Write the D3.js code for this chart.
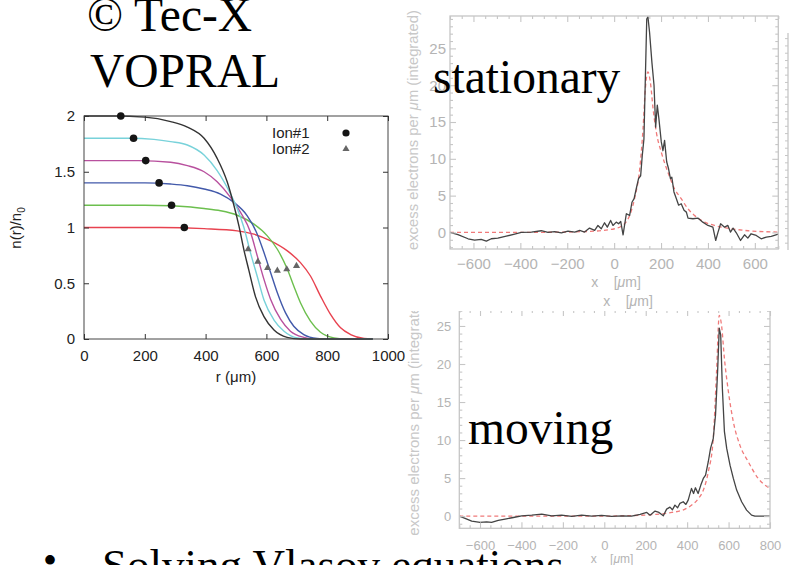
<!DOCTYPE html>
<html><head><meta charset="utf-8">
<script src="https://cdn.jsdelivr.net/npm/d3@7"></script>
<style>html,body{margin:0;padding:0;background:#fff;}svg{display:block;}</style>
</head><body>
<svg id="c" width="792" height="565"></svg>
<script>
// ---------- LEFT CHART DATA (r in µm, n(r)/n0) ----------
const leftXTicks = [0, 200, 400, 600, 800, 1000];
const leftYTicks = [0, 0.5, 1, 1.5, 2];
const curveBlack = [[0,2],[100,2],[200,1.99],[285,1.95],[340,1.9],[395,1.8],[438,1.62],[471,1.41],[493,1.2],[510,1.01],[526,0.8],[542,0.62],[564,0.38],[592,0.2],[625,0.08],[668,0.015],[712,0],[950,0]];
const curveCyan = [[0,1.8],[150,1.8],[230,1.79],[285,1.77],[340,1.74],[395,1.65],[438,1.51],[482,1.3],[504,1.17],[526,1.0],[548,0.77],[570,0.56],[592,0.35],[625,0.17],[658,0.07],[701,0.01],[740,0],[950,0]];
const curveMagenta = [[0,1.6],[180,1.6],[285,1.585],[340,1.555],[395,1.5],[438,1.41],[482,1.27],[515,1.135],[548,0.955],[570,0.745],[592,0.535],[614,0.355],[647,0.175],[679,0.07],[723,0.015],[760,0],[950,0]];
const curveBlue = [[0,1.4],[200,1.4],[285,1.39],[340,1.375],[395,1.345],[449,1.3],[493,1.225],[537,1.105],[570,0.94],[592,0.775],[614,0.595],[636,0.415],[663,0.234],[690,0.114],[723,0.04],[767,0.005],[800,0],[950,0]];
const curveGreen = [[0,1.2],[200,1.2],[285,1.195],[340,1.186],[395,1.17],[449,1.15],[504,1.11],[559,1.03],[603,0.925],[636,0.805],[669,0.625],[690,0.475],[712,0.325],[745,0.16],[778,0.06],[822,0.01],[860,0],[950,0]];
const curveRed = [[0,1],[250,1],[395,0.99],[504,0.97],[559,0.94],[614,0.88],[669,0.79],[712,0.685],[745,0.565],[778,0.385],[811,0.22],[844,0.1],[877,0.04],[921,0.005],[950,0]];
const ion1R = [121, 163, 203, 247, 288, 330];
const ion1N = [2, 1.8, 1.6, 1.4, 1.2, 1.0];
const ion2R = [540, 572, 604, 636, 667, 699];
const ion2N = [0.805, 0.694, 0.637, 0.613, 0.625, 0.655];
const legendLabels = ["Ion#1", "Ion#2"];

// ---------- TOP RIGHT (stationary) ----------
const topXTicks = [-600, -400, -200, 0, 200, 400, 600];
const topYTicks = [0, 5, 10, 15, 20, 25];
const topMeasured = [[-700,0],[-666,-0.3],[-623,-0.86],[-595,-1.04],[-567,-0.95],[-545,-1.18],[-524,-0.86],[-496,-0.77],[-460,-0.5],[-424,-0.23],[-396,0],[-353,0.05],[-311,0.23],[-282,0],[-254,0.1],[-225,-0.05],[-197,0.18],[-168,0.05],[-147,0.27],[-126,0.05],[-105,0.59],[-83,0.27],[-69,0.95],[-55,0.5],[-41,1.31],[-29,0.72],[-15,1.63],[-5,0.95],[9,1.4],[19,1.18],[28,1.49],[38,-0.32],[52,2.54],[66,2.31],[76,4.1],[85,4.6],[94,5.9],[104,7.3],[113,7.7],[120,10.5],[127,12.7],[133,20.9],[139,29.0],[144,29.3],[151,27.2],[161,23.1],[170,20],[177,14.3],[184,17.3],[191,15.4],[201,12.3],[208,11.1],[215,12.5],[224,9.6],[232,8.65],[240,7.3],[246,7.5],[255,5.5],[265,4.6],[275,3.7],[286,3.9],[298,3.0],[308,2.76],[315,1.95],[336,1.86],[357,1.95],[378,1.4],[400,0.95],[421,0.72],[433,-1.09],[443,0.05],[454,1.18],[471,0.72],[485,0.95],[496,0.05],[507,0.59],[521,-0.05],[539,-1.09],[556,-0.32],[570,-0.77],[584,-0.18],[606,-0.41],[627,-0.86],[649,-0.63],[670,-0.54],[700,-0.23]];
const topFit = [[-700,0],[-300,0.02],[-100,0.15],[2,0.5],[45,1.2],[66,2.3],[87,4.6],[109,8.65],[123,14],[133,19.5],[144,21.8],[156,20],[166,16.8],[180,13.6],[201,10.9],[229,8.2],[258,5.9],[286,4.6],[315,3.2],[343,2.3],[386,1.4],[428,0.95],[500,0.5],[571,0.23],[700,0.05]];

// ---------- BOTTOM RIGHT (moving) ----------
const botXTicks = [-600, -400, -200, 0, 200, 400, 600, 800];
const botYTicks = [0, 5, 10, 15, 20, 25];
const botMeasured = [[-700,0],[-672,-0.3],[-640,-0.66],[-600,-0.83],[-568,-0.75],[-544,-0.83],[-512,-0.57],[-479,-0.39],[-439,-0.18],[-399,0.04],[-350,0.13],[-302,0.26],[-254,0.04],[-206,0.13],[-157,-0.04],[-109,0.13],[-61,0],[-13,0.09],[35,-0.04],[84,0.04],[132,0],[173,0.22],[205,0.48],[221,0.13],[245,0.66],[264,0.48],[285,0.04],[301,0.92],[317,1.18],[329,0.83],[341,1.45],[354,1.1],[365,1.67],[381,1.89],[394,1.54],[405,2.1],[421,3.64],[431,2.98],[440,3.73],[453,2.98],[466,4.08],[478,4.96],[489,5.4],[502,7.15],[513,8.9],[526,10.2],[537,13.3],[547,19.0],[555,24.7],[562,23.8],[570,16.8],[580,11.1],[591,8.9],[607,6.7],[623,4.96],[639,3.42],[663,1.89],[687,0.79],[711,0.13],[727,0],[800,0]];
const botFit = [[-700,0],[0,0],[100,0.05],[245,0.22],[326,0.48],[390,0.92],[422,1.45],[454,2.3],[478,3.4],[502,5.8],[526,10.2],[542,19],[555,26.4],[566,25.1],[580,20.7],[599,16.4],[623,12.4],[655,9.3],[695,7.15],[743,4.96],[800,3.64]];

const svg = d3.select("#c");
const SANS = "'Liberation Sans', Arial, Helvetica, sans-serif";
const SERIF = "'Liberation Serif', 'Times New Roman', serif";

// ================= LEFT CHART =================
(function(){
  const x = d3.scaleLinear().domain([0, 1000]).range([84, 388]);
  const y = d3.scaleLinear().domain([0, 2]).range([339, 116]);
  const g = svg.append("g");
  const line = d3.line().x(d => x(d[0])).y(d => y(d[1])).curve(d3.curveMonotoneX);
  const series = [
    [curveRed, "#e8424f"], [curveGreen, "#6cbf4e"], [curveBlue, "#4259aa"],
    [curveMagenta, "#b8509e"], [curveCyan, "#78d2da"], [curveBlack, "#333333"]
  ];
  series.forEach(([d, col]) => {
    g.append("path").datum(d).attr("d", line).attr("fill", "none")
      .attr("stroke", col).attr("stroke-width", 1.4);
  });
  g.append("rect").attr("x", x(0)).attr("y", y(2)).attr("width", x(1000) - x(0))
    .attr("height", y(0) - y(2)).attr("fill", "none").attr("stroke", "#444").attr("stroke-width", 1);
  const style = s => {
    s.select(".domain").remove();
    s.attr("color", "#333");
    s.selectAll("text").attr("font-family", SANS).attr("font-size", 15).attr("fill", "#222");
  };
  g.append("g").attr("transform", `translate(0,${y(0)})`)
    .call(d3.axisBottom(x).tickValues(leftXTicks).tickSize(-5).tickPadding(11).tickFormat(d3.format("d"))).call(style);
  g.append("g").attr("transform", `translate(0,${y(2)})`)
    .call(d3.axisTop(x).tickValues(leftXTicks).tickSize(-5).tickFormat("")).call(style);
  g.append("g").attr("transform", `translate(${x(0)},0)`)
    .call(d3.axisLeft(y).tickValues(leftYTicks).tickSize(-5).tickPadding(9).tickFormat(d => String(d))).call(style);
  g.append("g").attr("transform", `translate(${x(1000)},0)`)
    .call(d3.axisRight(y).tickValues(leftYTicks).tickSize(-5).tickFormat("")).call(style);
  g.selectAll("circle.ion1").data(ion1R).enter().append("circle")
    .attr("cx", d => x(d)).attr("cy", (d, i) => y(ion1N[i])).attr("r", 3.8).attr("fill", "#151515");
  const tri = d3.symbol().type(d3.symbolTriangle).size(22);
  g.selectAll("path.ion2").data(ion2R).enter().append("path")
    .attr("d", tri).attr("fill", "#666")
    .attr("transform", (d, i) => `translate(${x(d)},${y(ion2N[i])})`);
  const lg = g.append("g").attr("font-family", SANS).attr("font-size", 15).attr("fill", "#222");
  lg.append("text").attr("x", 272).attr("y", 138).text(legendLabels[0]);
  lg.append("text").attr("x", 272).attr("y", 154).text(legendLabels[1]);
  lg.append("circle").attr("cx", 346).attr("cy", 133).attr("r", 3.6).attr("fill", "#151515");
  lg.append("path").attr("d", tri).attr("fill", "#666").attr("transform", "translate(346,149)");
  g.append("text").attr("x", 236).attr("y", 382).attr("text-anchor", "middle")
    .attr("font-family", SANS).attr("font-size", 15).attr("fill", "#222").text("r (μm)");
  const yl = g.append("text").attr("transform", "translate(21,228) rotate(-90)").attr("text-anchor", "middle")
    .attr("font-family", SANS).attr("font-size", 15).attr("fill", "#222");
  yl.append("tspan").text("n(r)/n");
  yl.append("tspan").attr("font-size", 10).attr("dy", 4).text("0");
})();

// ================= IDL-STYLE CHARTS =================
function idlChart(o) {
  const g = svg.append("g");
  if (o.clipTop !== undefined) {
    const id = "clip" + o.name;
    svg.append("clipPath").attr("id", id).append("rect")
      .attr("x", 395).attr("y", o.clipTop).attr("width", 400).attr("height", 565 - o.clipTop);
    g.attr("clip-path", `url(#${id})`);
  }
  const x = d3.scaleLinear().domain(o.xd).range(o.xr);
  const y = d3.scaleLinear().domain(o.yd).range(o.yr);
  const axisCol = "#c6c6c6";
  const line = d3.line().x(d => x(d[0])).y(d => y(d[1]));
  g.append("path").datum(o.fit).attr("d", line.curve(d3.curveMonotoneX)).attr("fill", "none")
    .attr("stroke", "#f07a7a").attr("stroke-width", 1.3).attr("stroke-dasharray", "4,3");
  g.append("path").datum(o.meas).attr("d", d3.line().x(d => x(d[0])).y(d => y(d[1]))).attr("fill", "none")
    .attr("stroke", "#444").attr("stroke-width", 1.3).attr("stroke-linejoin", "round");
  g.append("rect").attr("x", o.xr[0]).attr("y", o.yr[1]).attr("width", o.xr[1] - o.xr[0])
    .attr("height", o.yr[0] - o.yr[1]).attr("fill", "none").attr("stroke", axisCol).attr("stroke-width", 1.3);
  const minorX = d3.range(o.xd[0], o.xd[1] + 1, 50).filter(v => !o.xt.includes(v));
  const minorY = d3.range(Math.ceil(o.yd[0]), o.yd[1], 1).filter(v => !o.yt.includes(v));
  const style = s => {
    s.select(".domain").remove();
    s.attr("color", axisCol);
    s.selectAll("line").attr("stroke-width", 1.1);
    s.selectAll("text").attr("font-family", SANS).attr("font-size", o.fs).attr("fill", "#b4b4b4");
  };
  const add = (gen, scale, vals, size, pad, fmt, tx, ty) => {
    g.append("g").attr("transform", `translate(${tx},${ty})`)
      .call(gen(scale).tickValues(vals).tickSize(-size).tickPadding(pad).tickFormat(fmt)).call(style);
  };
  const f = d3.format("d");
  add(d3.axisBottom, x, o.xt, 6, o.xpad, f, 0, o.yr[0]);
  add(d3.axisBottom, x, minorX, 3, 0, "", 0, o.yr[0]);
  add(d3.axisTop, x, o.xt, 6, 0, "", 0, o.yr[1]);
  add(d3.axisTop, x, minorX, 3, 0, "", 0, o.yr[1]);
  add(d3.axisLeft, y, o.yt, 6, o.ypad, f, o.xr[0], 0);
  add(d3.axisLeft, y, minorY, 3, 0, "", o.xr[0], 0);
  add(d3.axisRight, y, o.yt, 6, 0, "", o.xr[1], 0);
  add(d3.axisRight, y, minorY, 3, 0, "", o.xr[1], 0);
  const yt = g.append("text").attr("transform", `translate(${o.ytx},${o.yty}) rotate(-90)`)
    .attr("text-anchor", "middle").attr("font-family", SANS).attr("font-size", o.yfs).attr("fill", "#c8c8c8");
  yt.append("tspan").text("excess electrons per ");
  yt.append("tspan").attr("font-style", "italic").text("μ");
  yt.append("tspan").text("m (integrated)");
  const xt = g.append("text").attr("x", o.xtx).attr("y", o.xty).attr("text-anchor", "middle")
    .attr("font-family", SANS).attr("font-size", o.xfs).attr("fill", "#b4b4b4").attr("xml:space", "preserve");
  xt.append("tspan").text("x    [");
  xt.append("tspan").attr("font-style", "italic").text("μ");
  xt.append("tspan").text("m]");
}

idlChart({name: "top", xd: [-700, 700], xr: [450, 778.3], yd: [-2.25, 29.4], yr: [249, 16],
  xt: topXTicks, yt: topYTicks, meas: topMeasured, fit: topFit, fs: 15, xpad: 9, ypad: 4,
  ytx: 418, yty: 130, yfs: 14.8, xtx: 616, xty: 287, xfs: 14});

(function(){
  const xt = svg.append("text").attr("x", 628).attr("y", 306).attr("text-anchor", "middle")
    .attr("font-family", SANS).attr("font-size", 14).attr("fill", "#b4b4b4").attr("xml:space", "preserve");
  xt.append("tspan").text("x    [");
  xt.append("tspan").attr("font-style", "italic").text("μ");
  xt.append("tspan").text("m]");
})();

idlChart({name: "bot", clipTop: 311, xd: [-700, 800], xr: [459.3, 770], yd: [-1.6, 27.1], yr: [528.3, 310],
  xt: botXTicks, yt: botYTicks, meas: botMeasured, fit: botFit, fs: 13, xpad: 12, ypad: 8,
  ytx: 419, yty: 414, yfs: 15, xtx: 612, xty: 563, xfs: 12});

(function(){
  const y = d3.scaleLinear().domain([-2, 27.7]).range([250, 33]);
  const g = svg.append("g");
  g.append("line").attr("x1", 788).attr("x2", 788).attr("y1", y(-2)).attr("y2", y(27.7))
    .attr("stroke", "#c6c6c6").attr("stroke-width", 1.3);
  g.append("g").attr("transform", "translate(788,0)")
    .call(d3.axisRight(y).tickValues(d3.range(-1, 28, 1)).tickSize(-3).tickFormat(""))
    .call(s => { s.select(".domain").remove(); s.attr("color", "#c6c6c6"); });
})();

// ================= SLIDE TEXT =================
const big = svg.append("g").attr("font-family", SERIF).attr("font-size", 47.5).attr("fill", "#000");
big.append("text").attr("x", 87).attr("y", 31).text("© Tec-X");
big.append("text").attr("x", 90).attr("y", 87).text("VOPRAL");
big.append("text").attr("x", 433).attr("y", 93).text("stationary");
big.append("text").attr("x", 468).attr("y", 444).text("moving");
big.append("text").attr("x", 50).attr("y", 574).attr("text-anchor", "middle").attr("font-size", 40).text("•");
big.append("text").attr("x", 102).attr("y", 580).attr("font-size", 45).text("Solving Vlasov equations");
</script>
</body></html>
